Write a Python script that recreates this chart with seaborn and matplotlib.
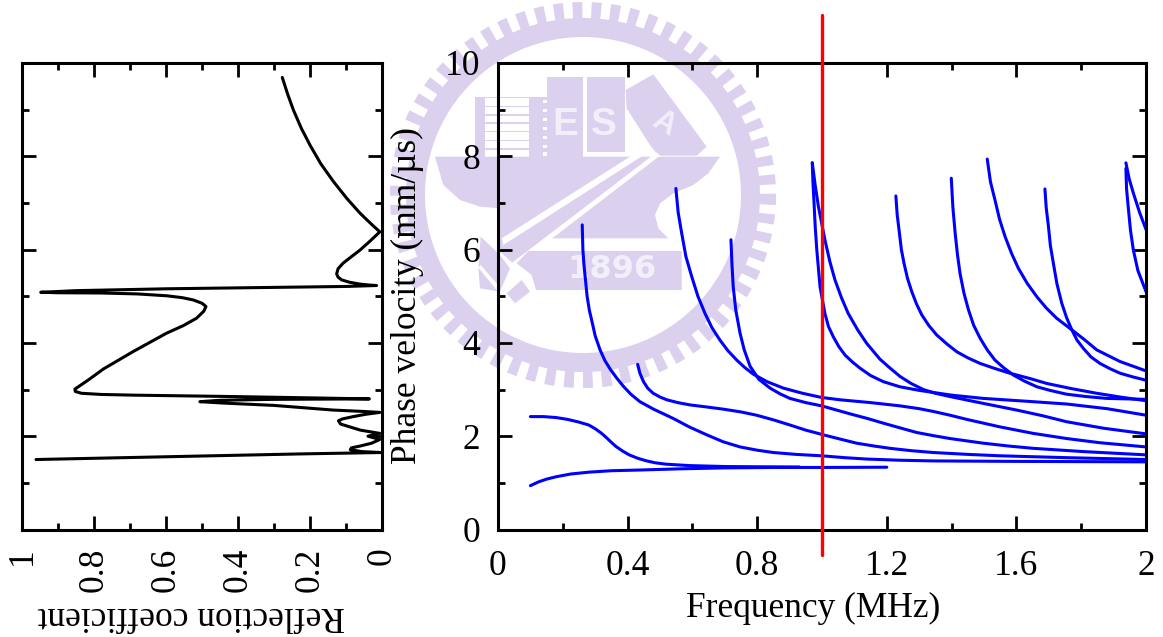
import numpy as np
import pandas as pd
import seaborn as sns
import matplotlib
matplotlib.use("Agg")
import matplotlib.pyplot as plt
from matplotlib.patches import Polygon, Wedge
from matplotlib.ticker import MultipleLocator

# reflection coefficient vs phase velocity (left panel)
refl_r = [.277, .262, .246, .224, .200, .170, .135, .098, .061, .030, .006, .035, .061, .088, .108, .122, .126, .122, .112,
          .090, .061, .035, .015, .100, .300, .598, .850, .948, .900, .783, .680, .598, .555, .524, .500, .489, .495, .515,
          .552, .598, .690, .774, .815, .853, .852, .835, .780, .691, .414, .035, .300, .450, .506, .440, .300, .135, .050,
          .006, .045, .080, .110, .121, .115, .098, .060, .006, .039, .006, .029, .060, .085, .088, .056, .003, .228, .961]
refl_v = [9.69, 9.33, 8.99, 8.60, 8.24, 7.84, 7.46, 7.10, 6.78, 6.55, 6.38, 6.17, 5.99, 5.83, 5.71, 5.59, 5.48, 5.41, 5.35,
          5.30, 5.26, 5.24, 5.23, 5.21, 5.19, 5.16, 5.12, 5.085, 5.075, 5.07, 5.05, 5.01, 4.97, 4.92, 4.85, 4.78, 4.68, 4.53,
          4.37, 4.21, 3.82, 3.44, 3.21, 3.01, 2.96, 2.92, 2.895, 2.88, 2.85, 2.80, 2.79, 2.77, 2.74, 2.71, 2.66, 2.56, 2.53,
          2.51, 2.47, 2.42, 2.37, 2.33, 2.26, 2.22, 2.13, 2.06, 2.00, 1.93, 1.85, 1.79, 1.75, 1.71, 1.67, 1.65, 1.62, 1.50]

# dispersion curves (right panel), frequency and phase velocity
f_a = [.100, .125, .150, .179, .225, .282, .350, .437, .560, .695, .850, 1.0, 1.2]
v_a = [.94, 1.02, 1.08, 1.13, 1.19, 1.23, 1.26, 1.275, 1.30, 1.32, 1.33, 1.33, 1.335]
f_b = [.100, .140, .179, .215, .251, .280, .300, .318, .333, .348, .364, .385, .405, .430, .456, .485, .519, .590, .700, .800, .930]
v_b = [2.42, 2.42, 2.40, 2.36, 2.30, 2.24, 2.16, 2.07, 1.98, 1.88, 1.78, 1.68, 1.60, 1.53, 1.475, 1.43, 1.40, 1.37, 1.35, 1.345, 1.34]
f_c = [.260, .262, .265, .269, .275, .282, .289, .300, .315, .330, .347, .366, .387, .410, .438, .480, .541, .590, .644, .695,
       .747, .800, .850, .920, .999, 1.07, 1.138, 1.24, 1.344, 1.6, 2.0]
v_c = [6.53, 6.0, 5.7, 5.42, 5.0, 4.7, 4.49, 4.15, 3.85, 3.62, 3.43, 3.25, 3.07, 2.90, 2.74, 2.58, 2.38, 2.20, 2.03, 1.88,
       1.77, 1.70, 1.65, 1.61, 1.58, 1.54, 1.51, 1.485, 1.47, 1.46, 1.45]
f_d = [.431, .438, .449, .462, .479, .500, .521, .555, .593, .640, .695, .750, .798, .850, .901, .950, 1.004, 1.055, 1.107,
       1.160, 1.210, 1.275, 1.344, 1.45, 1.549, 1.755, 2.0]
v_d = [3.54, 3.35, 3.17, 3.03, 2.92, 2.84, 2.78, 2.72, 2.67, 2.63, 2.58, 2.52, 2.45, 2.35, 2.24, 2.13, 2.03, 1.94, 1.85,
       1.79, 1.74, 1.69, 1.65, 1.61, 1.58, 1.54, 1.50]
f_e = [.549, .556, .567, .580, .598, .617, .639, .660, .685, .710, .737, .762, .788, .830, .881, .940, .999, 1.056, 1.150,
       1.241, 1.300, 1.344, 1.395, 1.447, 1.549, 1.652, 1.755, 1.858, 2.0]
v_e = [7.31, 6.8, 6.35, 5.85, 5.42, 5.0, 4.63, 4.33, 4.06, 3.83, 3.63, 3.47, 3.33, 3.17, 3.03, 2.92, 2.83, 2.78, 2.72,
       2.65, 2.59, 2.53, 2.45, 2.36, 2.20, 2.06, 1.95, 1.86, 1.77]
f_f = [.719, .722, .726, .734, .747, .760, .778, .805, .840, .870, .901, .950, .999, 1.040, 1.086, 1.140, 1.189, 1.240, 1.292,
       1.345, 1.395, 1.498, 1.575, 1.652, 1.807, 2.0]
v_f = [6.21, 5.7, 5.20, 4.7, 4.21, 3.85, 3.50, 3.22, 3.03, 2.91, 2.81, 2.72, 2.65, 2.57, 2.48, 2.38, 2.28, 2.18, 2.08,
       2.01, 1.95, 1.85, 1.79, 1.74, 1.67, 1.60]
f_g = [.970, .979, .989, 1.009, 1.024, 1.040, 1.060, 1.081, 1.110, 1.138, 1.179, 1.210, 1.241, 1.275, 1.313, 1.350, 1.395,
       1.50, 1.601, 1.680, 1.755, 1.870, 2.0]
v_g = [7.86, 7.38, 6.92, 6.21, 5.75, 5.35, 4.97, 4.63, 4.28, 3.99, 3.65, 3.46, 3.28, 3.13, 3.0, 2.92, 2.85,
       2.70, 2.56, 2.44, 2.31, 2.17, 2.05]
f_h = [.970, .972, .975, .979, .984, .994, 1.009, 1.020, 1.035, 1.052, 1.071, 1.094, 1.117, 1.150, 1.189, 1.240, 1.302, 1.40,
       1.498, 1.63, 1.755, 1.88, 2.0]
v_h = [7.86, 7.45, 7.06, 6.5, 5.99, 5.20, 4.63, 4.35, 4.13, 3.92, 3.74, 3.59, 3.46, 3.30, 3.17, 3.06, 2.98, 2.88,
       2.81, 2.75, 2.69, 2.59, 2.45]
f_i = [1.228, 1.232, 1.239, 1.245, 1.253, 1.264, 1.277, 1.292, 1.308, 1.330, 1.354, 1.385, 1.416, 1.450, 1.488, 1.534, 1.580,
       1.640, 1.694, 1.770, 1.848, 1.92, 2.0]
v_i = [7.15, 6.75, 6.35, 6.0, 5.71, 5.38, 5.10, 4.83, 4.60, 4.37, 4.17, 3.98, 3.81, 3.68, 3.56, 3.45, 3.35,
       3.24, 3.13, 3.02, 2.92, 2.84, 2.76]
f_j = [1.399, 1.404, 1.411, 1.418, 1.426, 1.438, 1.452, 1.468, 1.488, 1.510, 1.534, 1.562, 1.591, 1.625, 1.663, 1.705, 1.755,
       1.815, 1.879, 2.0]
v_j = [7.53, 6.9, 6.35, 5.9, 5.49, 5.07, 4.71, 4.38, 4.10, 3.85, 3.63, 3.46, 3.31, 3.18, 3.06, 2.98, 2.90,
       2.85, 2.81, 2.79]
f_k = [1.510, 1.520, 1.534, 1.548, 1.565, 1.585, 1.606, 1.633, 1.663, 1.692, 1.724, 1.771, 1.810, 1.848, 1.920, 2.0]
v_k = [7.94, 7.45, 7.06, 6.65, 6.28, 5.92, 5.60, 5.28, 4.99, 4.75, 4.53, 4.28, 4.07, 3.85, 3.60, 3.40]
f_l = [1.688, 1.692, 1.699, 1.705, 1.714, 1.725, 1.740, 1.755, 1.771, 1.787, 1.807, 1.830, 1.858, 1.888, 1.920, 1.960, 2.0]
v_l = [7.30, 6.9, 6.49, 6.08, 5.71, 5.27, 4.85, 4.54, 4.28, 4.06, 3.88, 3.70, 3.56, 3.45, 3.35, 3.27, 3.20]
f_m = [1.938, 1.948, 1.961, 1.980, 2.0]
v_m = [7.86, 7.52, 7.21, 6.80, 6.43]
f_n = [1.938, 1.940, 1.946, 1.952, 1.961, 1.975, 2.0]
v_n = [7.74, 7.3, 6.85, 6.42, 5.99, 5.55, 5.10]

freq_curves = [f_a, f_b, f_c, f_d, f_e, f_f, f_g, f_h, f_i, f_j, f_k, f_l, f_m, f_n]
vel_curves = [v_a, v_b, v_c, v_d, v_e, v_f, v_g, v_h, v_i, v_j, v_k, v_l, v_m, v_n]

freq_ticks = [0, 0.4, 0.8, 1.2, 1.6, 2]
freq_labels = ["0", "0.4", "0.8", "1.2", "1.6", "2"]
refl_ticks = [0, 0.2, 0.4, 0.6, 0.8, 1]
refl_labels = ["0", "0.2", "0.4", "0.6", "0.8", "1"]
vel_ticks = [0, 2, 4, 6, 8, 10]
vel_labels = ["0", "2", "4", "6", "8", "10"]

sns.set_style("ticks")
plt.rcParams["font.family"] = ["Liberation Serif", "DejaVu Serif"]
plt.rcParams["text.color"] = "black"
plt.rcParams["axes.labelcolor"] = "black"
plt.rcParams["xtick.color"] = "black"
plt.rcParams["ytick.color"] = "black"

W, H = 1163, 637
FS = 25.5
fig = plt.figure(figsize=(W / 100, H / 100), dpi=100)

# watermark behind the charts, in pixel coordinates
PURPLE = "#dbd0ee"
PALE = "#f3effa"
wm = fig.add_axes([0, 0, 1, 1], zorder=0)
wm.set_xlim(0, W)
wm.set_ylim(H, 0)
wm.axis("off")
cx, cy = 583, 195
wm.add_patch(Wedge((cx, cy), 177, 0, 360, width=19, fc=PURPLE, ec="none"))
for a in np.arange(0, 360, 5.8):
    wm.add_patch(Wedge((cx, cy), 193, a, a + 3.0, width=18, fc=PURPLE, ec="none"))


def z(pts):
    return [(460 + x / 3, 65 + y / 3) for x, y in pts]


def poly(pts, color=PURPLE):
    wm.add_patch(Polygon(z(pts), closed=True, fc=color, ec="none"))


def label(x, y, s, size, rot=0, fam="Liberation Sans"):
    wm.text(460 + x / 3, 65 + y / 3, s, color=PALE, fontsize=size, ha="center", va="center", fontweight="bold",
            family=fam, rotation=rot)


# building and books
poly([(45, 95), (262, 95), (262, 35), (368, 35), (368, 280), (45, 280)])
poly([(382, 35), (495, 35), (495, 262), (382, 262)])
poly([(497, 75), (580, 28), (740, 245), (710, 272), (595, 272), (570, 240), (500, 130)])
poly([(75, 100), (208, 100), (208, 275), (75, 275)], "white")
for y in [122, 148, 172, 198, 225, 250]:
    poly([(75, y), (208, y), (208, y + 4), (75, y + 4)])
for y in [105, 132, 159, 186, 213, 240, 262]:
    poly([(248, y), (262, y), (262, y + 10), (248, y + 10)], "white")
# bowl with the diagonal bar
poly([(-75, 275), (780, 275), (745, 325), (700, 360), (640, 385), (600, 415), (585, 450), (595, 490), (625, 520), (270, 520),
      (165, 600), (120, 560), (120, 430), (60, 425), (0, 405), (-50, 360)])
poly([(125, 520), (565, 240), (575, 255), (130, 540)], "white")
poly([(150, 598), (590, 262), (600, 272), (270, 525), (165, 605)], "white")
# lower left pieces and year band
poly([(62, 515), (120, 570), (150, 610), (120, 680), (60, 670), (55, 610)])
poly([(55, 608), (62, 600), (118, 665), (110, 675)], "white")
poly([(140, 685), (185, 645), (210, 680), (165, 715)])
poly([(205, 558), (665, 558), (665, 675), (228, 675), (215, 630), (170, 595)])
label(315, 180, "E", 28)
label(432, 180, "S", 28)
label(610, 175, "A", 22, rot=-30)
label(455, 615, "1896", 23, fam="DejaVu Sans")

# left panel: reflection coefficient
ax1 = fig.add_axes([22 / W, 1 - 529.5 / H, 360 / W, 466.5 / H], zorder=1)
ax1.patch.set_alpha(0)
sns.lineplot(x=refl_r, y=refl_v, sort=False, estimator=None, color="black", lw=2.2, ax=ax1)
ax1.set_xlim(1, 0)
ax1.set_ylim(0, 10)
ax1.set_xticks(refl_ticks, refl_labels)
ax1.xaxis.set_minor_locator(MultipleLocator(0.1))
ax1.yaxis.set_major_locator(MultipleLocator(2))
ax1.yaxis.set_minor_locator(MultipleLocator(1))
ax1.tick_params(axis="y", labelleft=False)
ax1.tick_params(axis="x", labelrotation=90, pad=13)
ax1.set_xlabel("Reflection coefficient", rotation=180, fontsize=FS)
ax1.xaxis.set_label_coords(0.469, -0.149)

# right panel: dispersion curves
ax2 = fig.add_axes([498 / W, 1 - 529.5 / H, 648 / W, 466.5 / H], zorder=1)
ax2.patch.set_alpha(0)
for fc, vc in zip(freq_curves, vel_curves):
    df = pd.DataFrame({"f": fc, "v": vc})
    sns.lineplot(data=df, x="f", y="v", sort=False, estimator=None, color="blue", lw=2.2, ax=ax2)
ax2.plot([1, 1], [-0.55, 11.03], color="red", lw=2.4, clip_on=False, zorder=5)
ax2.set_xlim(0, 2)
ax2.set_ylim(0, 10)
ax2.set_xticks(freq_ticks, freq_labels)
ax2.set_yticks(vel_ticks, vel_labels)
ax2.xaxis.set_minor_locator(MultipleLocator(0.2))
ax2.yaxis.set_minor_locator(MultipleLocator(1))
ax2.tick_params(axis="x", pad=15)
ax2.tick_params(axis="y", pad=13)
ax2.set_xlabel("Frequency (MHz)", fontsize=FS)
ax2.set_ylabel("Phase velocity (mm/µs)", fontsize=FS)
ax2.xaxis.set_label_coords(0.486, -0.133)
ax2.yaxis.set_label_coords(-0.114, 0.5005)

for ax in [ax1, ax2]:
    ax.tick_params(which="major", direction="in", top=True, right=True, bottom=True, left=True, length=10, width=2,
                   labelsize=FS)
    ax.tick_params(which="minor", direction="in", top=True, right=True, bottom=True, left=True, length=5, width=2)
    for s in ax.spines.values():
        s.set_linewidth(2.2)
        s.set_visible(True)
        s.set_color("black")

fig.savefig("out.png", dpi=100, facecolor="white")
